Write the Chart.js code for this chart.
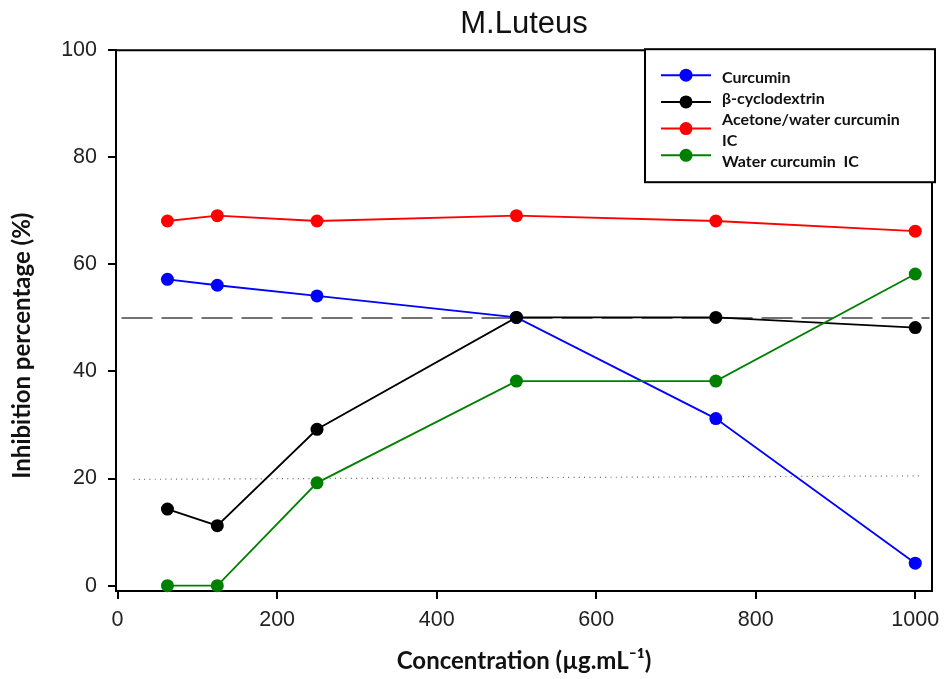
<!DOCTYPE html>
<html>
<head>
<meta charset="utf-8">
<script src="https://cdn.jsdelivr.net/npm/chart.js@4"></script>
<style>
  html, body { margin: 0; padding: 0; background: #fff; }
  #wrap { width: 944px; height: 679px; }
</style>
</head>
<body>
<div id="wrap"><canvas id="c" width="944" height="679"></canvas></div>
<script>
// ---- data ----
const concentrations = [62.5, 125, 250, 500, 750, 1000];
const curcumin       = [57.2, 56.1, 54.1, 50.1, 31.2, 4.2];
const cyclodextrin   = [14.3, 11.2, 29.2, 50.1, 50.1, 48.2];
const acetoneWaterIC = [68.1, 69.1, 68.1, 69.1, 68.1, 66.2];
const waterIC        = [0, 0, 19.2, 38.2, 38.2, 58.2];
const seriesLabels   = ['Curcumin', 'β-cyclodextrin', 'Acetone/water curcumin\nIC', 'Water curcumin  IC'];
const xTicks = [0, 200, 400, 600, 800, 1000];
const yTicks = [0, 20, 40, 60, 80, 100];
const refDashedX = [5, 1018];
const refDashedY = [50, 50];
const refDottedX = [20, 1010];
const refDottedY = [19.85, 20.5];
const yAxisTitle = 'Inhibition percentage (%)';

const pts = (xs, ys) => xs.map((x, i) => ({ x: x, y: ys[i] }));

function series(label, ys, color, order) {
  return {
    label: label,
    data: pts(concentrations, ys),
    borderColor: color,
    backgroundColor: color,
    pointBackgroundColor: color,
    pointBorderColor: color,
    pointRadius: 6.5,
    pointBorderWidth: 0,
    borderWidth: 1.8,
    tension: 0,
    clip: false,
    order: order,
    isSeries: true
  };
}

const frameLegendPlugin = {
  id: 'frameLegend',
  afterDraw(chart) {
    const ctx = chart.ctx;
    const a = chart.chartArea;
    ctx.save();
    // y axis title (offset below the axis centre as in the reference)
    ctx.save();
    ctx.translate(22, (a.top + a.bottom) / 2 + 25);
    ctx.rotate(-Math.PI / 2);
    ctx.font = 'bold 24px Lato';
    ctx.fillStyle = '#111';
    ctx.textAlign = 'center';
    ctx.textBaseline = 'middle';
    ctx.fillText(yAxisTitle, 0, 0);
    ctx.restore();

    // top & right frame lines
    ctx.strokeStyle = '#000';
    ctx.lineWidth = 2;
    ctx.beginPath();
    ctx.moveTo(a.left, a.top);
    ctx.lineTo(a.right, a.top);
    ctx.lineTo(a.right, a.bottom);
    ctx.stroke();

    // legend box
    const bx = a.right - 287, by = a.top - 1, bw = 290, bh = 133;
    ctx.fillStyle = '#fff';
    ctx.fillRect(bx, by, bw, bh);
    ctx.strokeRect(bx, by, bw, bh);

    ctx.font = 'bold 16px Lato';
    ctx.textBaseline = 'middle';
    ctx.textAlign = 'left';
    let lineIdx = 0;
    const items = chart.data.datasets.filter(d => d.isSeries);
    items.forEach((d, i) => {
      const my = by + 26 + 26.7 * i;
      ctx.strokeStyle = d.borderColor;
      ctx.lineWidth = 2;
      ctx.beginPath();
      ctx.moveTo(bx + 16, my);
      ctx.lineTo(bx + 66, my);
      ctx.stroke();
      ctx.fillStyle = d.borderColor;
      ctx.beginPath();
      ctx.arc(bx + 41, my, 6.5, 0, Math.PI * 2);
      ctx.fill();
      ctx.fillStyle = '#111';
      d.label.split('\n').forEach(t => {
        ctx.fillText(t, bx + 77, by + 29 + 21 * lineIdx);
        lineIdx++;
      });
    });
    ctx.restore();
  }
};

new Chart(document.getElementById('c'), {
  type: 'line',
  data: {
    datasets: [
      {
        label: '',
        data: pts(refDashedX, refDashedY),
        borderColor: '#444',
        borderWidth: 1.5,
        borderDash: [31, 9],
        pointRadius: 0,
        order: 10
      },
      {
        label: '',
        data: pts(refDottedX, refDottedY),
        borderColor: '#666',
        borderWidth: 1.2,
        borderDash: [1, 4.3],
        pointRadius: 0,
        order: 11
      },
      series(seriesLabels[0], curcumin, '#0000ff', 4),
      series(seriesLabels[1], cyclodextrin, '#000000', 3),
      series(seriesLabels[2], acetoneWaterIC, '#ff0000', 2),
      series(seriesLabels[3], waterIC, '#008000', 1)
    ]
  },
  options: {
    responsive: false,
    animation: false,
    layout: { padding: { top: 0, right: 12, bottom: 0, left: 0 } },
    plugins: {
      legend: { display: false },
      tooltip: { enabled: false },
      title: {
        display: true,
        text: 'M.Luteus',
        fullSize: false,
        color: '#111',
        font: { family: 'Liberation Sans', size: 31, weight: 'normal', lineHeight: 1.2 },
        padding: { top: 6, bottom: 7 }
      }
    },
    scales: {
      x: {
        type: 'linear',
        min: -2,
        max: 1021,
        afterBuildTicks: s => { s.ticks = xTicks.map(v => ({ value: v })); },
        afterFit: s => { s.height = 88; s.paddingLeft = 0; s.paddingRight = 0; },
        grid: { drawOnChartArea: false, drawTicks: true, tickLength: 8, color: '#000', lineWidth: 2 },
        border: { display: true, color: '#000', width: 2 },
        ticks: {
          autoSkip: false, maxRotation: 0, padding: 8, color: '#222',
          font: { family: 'Liberation Sans', size: 21.5 },
          callback: v => String(v)
        },
        title: {
          display: true,
          text: 'Concentration (µg.mL⁻¹)',
          color: '#111',
          font: { family: 'Lato', size: 24, weight: 'bold', lineHeight: 1.2 },
          padding: { top: 0, bottom: 3 }
        }
      },
      y: {
        type: 'linear',
        min: -1,
        max: 100,
        afterBuildTicks: s => { s.ticks = yTicks.map(v => ({ value: v })); },
        afterFit: s => { s.width = 116; },
        grid: { drawOnChartArea: false, drawTicks: true, tickLength: 8, color: '#000', lineWidth: 2 },
        border: { display: true, color: '#000', width: 2 },
        ticks: {
          autoSkip: false, padding: 11, color: '#222',
          font: { family: 'Liberation Sans', size: 21.5 },
          callback: v => String(v)
        },
        title: { display: false }
      }
    }
  },
  plugins: [frameLegendPlugin]
});
</script>
</body>
</html>
